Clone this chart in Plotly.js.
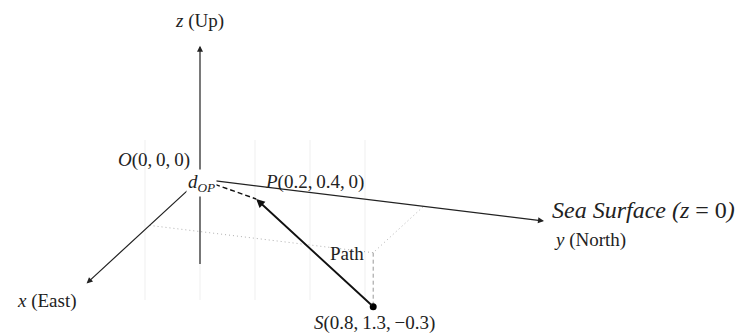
<!DOCTYPE html>
<html>
<head>
<meta charset="utf-8">
<script src="https://cdn.plot.ly/plotly-3.0.1.min.js"></script>
<style>html,body{margin:0;padding:0;background:#fff;}#chart{width:740px;height:333px;}</style>
</head>
<body>
<div id="chart"></div>
<script>
// Named points in world coordinates (x = East, y = North, z = Up)
const pointNames = ['O', 'P', 'S'];
const pointX = [0, 0.2, 0.8];
const pointY = [0, 0.4, 1.3];
const pointZ = [0, 0, -0.3];

// Axis extents along each world direction
const axisNames = ['x', 'y', 'z'];
const axisWords = ['East', 'North', 'Up'];
const axisEnd = [1.8, 2.0, 0.74];
const zAxisBottom = -0.48;

// Faint background guide lines (screen x positions)
const guideX = [145, 200, 255, 310, 365];
const guideTop = 140, guideBottom = 300;

// Oblique projection of world coordinates onto the page
const origin2d = [200, 179];
const ex = [-63, 58], ey = [172, 21], ez = [0, -180];
function proj(p) {
  return [origin2d[0] + p[0] * ex[0] + p[1] * ey[0] + p[2] * ez[0],
          origin2d[1] + p[0] * ex[1] + p[1] * ey[1] + p[2] * ez[1]];
}
function pt(i) { return [pointX[i], pointY[i], pointZ[i]]; }
function fmt(v) { return v < 0 ? '\u2212' + Math.abs(v) : String(v); }
function coordLabel(i) {
  return '<i>' + pointNames[i] + '</i>(' + [pointX[i], pointY[i], pointZ[i]].map(fmt).join(',\u2009') + ')';
}

const O = proj(pt(0)), P = proj(pt(1)), S = proj(pt(2));
const Sfoot = proj([pointX[2], pointY[2], 0]);
const Sx = proj([pointX[2], 0, 0]);
const Sy = proj([0, pointY[2], 0]);
const xTip = proj([axisEnd[0], 0, 0]);
const yTip = proj([0, axisEnd[1], 0]);
const zTip = proj([0, 0, axisEnd[2]]);
const zBot = proj([0, 0, zAxisBottom]);

const traces = [];
// guide lines
guideX.forEach(gx => traces.push({
  x: [gx, gx], y: [guideTop, guideBottom], mode: 'lines',
  line: {color: '#efefef', width: 1}, hoverinfo: 'skip'
}));
// dotted projections onto the sea surface
traces.push({x: [Sx[0], Sfoot[0], Sy[0]], y: [Sx[1], Sfoot[1], Sy[1]], mode: 'lines',
  line: {color: '#b0b0b0', width: 1, dash: '1px,3px'}, hoverinfo: 'skip'});
// dashed depth drop from surface to S
traces.push({x: [Sfoot[0], S[0]], y: [Sfoot[1], S[1]], mode: 'lines',
  line: {color: '#999', width: 1, dash: '4px,3px'}, hoverinfo: 'skip'});
// dashed O to P distance
traces.push({x: [O[0], P[0]], y: [O[1], P[1]], mode: 'lines',
  line: {color: '#111', width: 1.4, dash: '5px,3px'}, hoverinfo: 'skip'});
// source point
traces.push({x: [S[0]], y: [S[1]], mode: 'markers',
  marker: {color: '#000', size: 7}, hoverinfo: 'skip'});

const font = {family: 'Liberation Serif, serif', size: 19, color: '#222'};
function arrow(from, to, opts) {
  return Object.assign({
    x: to[0], y: to[1], ax: from[0], ay: from[1], xref: 'x', yref: 'y', axref: 'x', ayref: 'y',
    text: '', showarrow: true, arrowhead: 2, arrowsize: 1, arrowwidth: 1.2, arrowcolor: '#222', standoff: 0
  }, opts || {});
}
function label(at, text, xanchor, yanchor, dx, dy, extra) {
  return Object.assign({
    x: at[0], y: at[1], xref: 'x', yref: 'y', text: text, showarrow: false,
    xanchor: xanchor, yanchor: yanchor, xshift: dx, yshift: dy, font: font
  }, extra || {});
}

const annotations = [
  arrow(zBot, zTip),
  arrow(O, xTip),
  arrow(O, yTip),
  arrow(S, P, {arrowwidth: 1.9, arrowcolor: '#111', arrowhead: 2, arrowsize: 0.9}),
  label(zTip, '<i>' + axisNames[2] + '</i> (' + axisWords[2] + ')', 'center', 'middle', -1, 25),
  label(O, coordLabel(0), 'right', 'middle', -8, 19),
  label(O, '<i>d</i><sub><i>OP</i></sub>', 'center', 'middle', 1, -4, {bgcolor: '#fff', borderpad: 1}),
  label(P, coordLabel(1), 'left', 'middle', 7, 17),
  label(yTip, '<i>Sea Surface (z</i> = 0<i>)</i>', 'left', 'middle', 6, 11, {font: Object.assign({}, font, {size: 24})}),
  label(yTip, '<i>' + axisNames[1] + '</i> (' + axisWords[1] + ')', 'left', 'middle', 8, -19),
  label(Sfoot, 'Path', 'right', 'middle', -7, -1),
  label(xTip, '<i>' + axisNames[0] + '</i> (' + axisWords[0] + ')', 'right', 'middle', -8, -18),
  label(S, coordLabel(2), 'center', 'middle', 1, -16)
];

const layout = {
  width: 740, height: 333, margin: {l: 0, r: 0, t: 0, b: 0},
  paper_bgcolor: '#fff', plot_bgcolor: '#fff', showlegend: false,
  xaxis: {range: [0, 740], visible: false, fixedrange: true},
  yaxis: {range: [333, 0], visible: false, fixedrange: true},
  annotations: annotations
};
Plotly.newPlot('chart', traces, layout, {staticPlot: true, displayModeBar: false});
</script>
</body>
</html>
